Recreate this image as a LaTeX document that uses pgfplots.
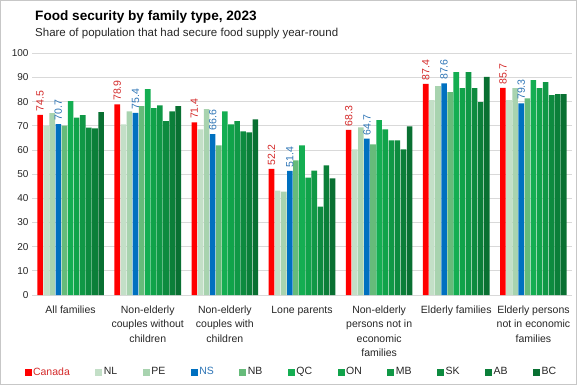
\documentclass[border=0pt]{standalone}
\usepackage{pgfplots}
\pgfplotsset{compat=1.18}
\usepackage{pgfplotstable}
\usepackage{fontspec}
\setmainfont{Liberation Sans}
\definecolor{cCA}{HTML}{FF0000}
\definecolor{cNL}{HTML}{C3DFC7}
\definecolor{cPE}{HTML}{A8D3AF}
\definecolor{cNS}{HTML}{0070C0}
\definecolor{cNB}{HTML}{66BB7A}
\definecolor{cQC}{HTML}{14AE52}
\definecolor{cON}{HTML}{10A34A}
\definecolor{cMB}{HTML}{109846}
\definecolor{cSK}{HTML}{0D8B3F}
\definecolor{cAB}{HTML}{0B7F39}
\definecolor{cBC}{HTML}{097032}
\definecolor{labred}{HTML}{D42A2A}
\definecolor{labblue}{HTML}{2E75B6}
\definecolor{txt}{HTML}{262626}

\pgfplotstableread{
g Canada NL PE NS NB QC ON MB SK AB BC
0 74.5 69.9 75.2 70.7 70.1 80.2 73.4 74.4 69.2 68.9 75.7
1 78.9 70.6 76.0 75.4 78.1 85.2 77.3 78.5 71.9 76.0 78.1
2 71.4 68.5 76.9 66.6 61.9 76.0 70.6 71.9 67.7 67.3 72.7
3 52.2 43.2 42.8 51.4 55.7 61.9 48.6 51.5 36.6 53.6 48.2
4 68.3 60.2 69.4 64.7 62.3 72.3 68.5 64.0 64.0 60.2 69.8
5 87.4 80.6 86.4 87.6 83.9 92.2 85.6 92.2 85.6 79.8 90.2
6 85.7 80.6 85.6 79.3 81.4 88.9 85.6 88.1 82.7 83.1 83.1
}\data

\begin{document}
\begin{tikzpicture}
\useasboundingbox (0pt,0pt) rectangle (577pt,385pt);
\draw[draw=black!22, line width=0.8pt] (0.5pt,0.5pt) rectangle (576.5pt,384.5pt);
\node[anchor=base west, inner sep=0, font=\fontsize{13.6}{16}\selectfont\bfseries, text=black] at (35pt,364.3pt) {Food security by family type, 2023};
\node[anchor=base west, inner sep=0, font=\fontsize{11.5}{13}\selectfont, text=txt] at (35pt,348.7pt) {Share of population that had secure food supply year-round};
\begin{axis}[
  at={(32pt,90pt)}, anchor=south west, scale only axis,
  width=540pt, height=241.7pt,
  ymin=0, ymax=100, xmin=-0.5, xmax=6.5,
  ybar=0.5pt, bar width=5.6pt,
  ytick={0,10,...,100},
  ymajorgrids, grid style={draw=black!15, line width=0.7pt},
  axis line style={draw=none}, tick style={draw=none},
  xtick=data,
  xticklabels={All families, Non-elderly\\couples without\\children, Non-elderly\\couples with\\children, Lone parents, Non-elderly\\persons not in\\economic\\families, Elderly families, Elderly persons\\not in economic\\families},
  xticklabel style={align=center, font=\fontsize{10.5}{14.5}\selectfont, text=txt, yshift=-3pt},
  yticklabel style={font=\fontsize{10}{12}\selectfont, text=txt},
  /pgf/number format/assume math mode=true,
  legend columns=11,
  legend image code/.code={\fill[#1,draw=none] (0pt,-3.5pt) rectangle (7pt,3.5pt);},
  legend style={draw=none, fill=none, at={(0.48,-0.3186)}, anchor=center,
    font=\fontsize{10.5}{12}\selectfont, text=txt,
    nodes={inner xsep=1.5pt},
    /tikz/every even column/.append style={column sep=24pt}},
  every axis plot/.append style={draw=none},
  clip=false,
]
\addplot[fill=cCA, nodes near coords, nodes near coords style={rotate=90, anchor=west, font=\fontsize{10.5}{12}\selectfont, text=labred, /pgf/number format/.cd, fixed, fixed zerofill, precision=1}] table[x=g,y=Canada]{\data};
\addlegendentry{\textcolor{labred}{Canada}}
\addplot[fill=cNL] table[x=g,y=NL]{\data};
\addlegendentry{NL}
\addplot[fill=cPE] table[x=g,y=PE]{\data};
\addlegendentry{PE}
\addplot[fill=cNS, nodes near coords, nodes near coords style={rotate=90, anchor=west, font=\fontsize{10.5}{12}\selectfont, text=labblue, /pgf/number format/.cd, fixed, fixed zerofill, precision=1}] table[x=g,y=NS]{\data};
\addlegendentry{\textcolor{labblue}{NS}}
\addplot[fill=cNB] table[x=g,y=NB]{\data};
\addlegendentry{NB}
\addplot[fill=cQC] table[x=g,y=QC]{\data};
\addlegendentry{QC}
\addplot[fill=cON] table[x=g,y=ON]{\data};
\addlegendentry{ON}
\addplot[fill=cMB] table[x=g,y=MB]{\data};
\addlegendentry{MB}
\addplot[fill=cSK] table[x=g,y=SK]{\data};
\addlegendentry{SK}
\addplot[fill=cAB] table[x=g,y=AB]{\data};
\addlegendentry{AB}
\addplot[fill=cBC] table[x=g,y=BC]{\data};
\addlegendentry{BC}
\end{axis}
\end{tikzpicture}
\end{document}
